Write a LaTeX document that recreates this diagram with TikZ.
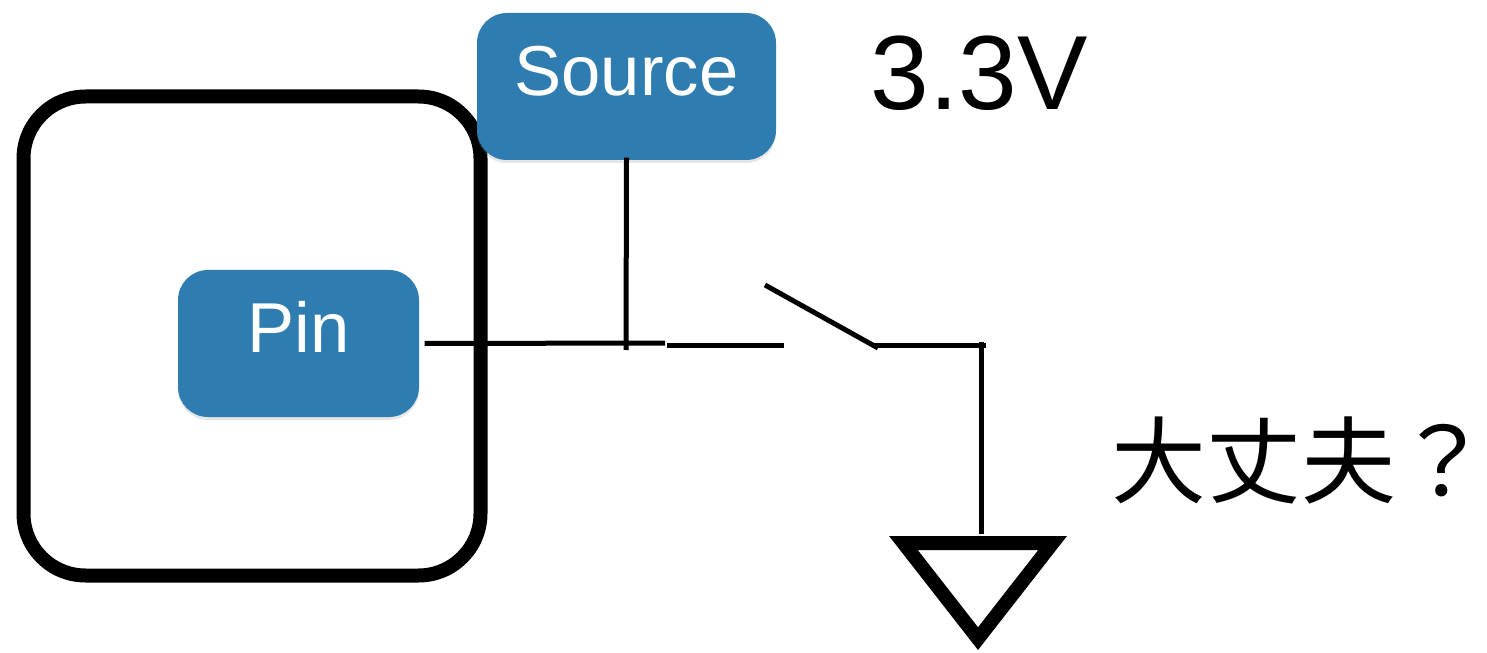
\documentclass[tikz,border=0pt]{standalone}
\usepackage{fontspec}
\setmainfont{Liberation Sans}
\newfontfamily\cjkfont{Noto Sans CJK JP}
\usetikzlibrary{shadows}
\definecolor{pinblue}{RGB}{47,125,176}
\tikzset{
    bluebox/.style={fill=pinblue,text=white,rounded corners=0.3cm,minimum height=1.47cm,
        text height=0.18cm,text depth=0cm,font=\fontsize{20.1pt}{24pt}\selectfont,
        drop shadow={shadow xshift=0cm,shadow yshift=-0.03cm,opacity=0.2}},
    wire/.style={line width=0.05cm},
}

\begin{document}
\begin{tikzpicture}
        \useasboundingbox (0,0) rectangle (14.87,6.52);
        \node[draw,line width=0.14cm,rounded corners=0.62cm,minimum width=4.57cm,minimum height=4.79cm] (chip) at (2.52,3.16) {};
        \node[bluebox,minimum width=2.99cm] (source) at (6.265,5.655) {Source};
        \node[bluebox,minimum width=2.41cm] (pin) at (2.985,3.085) {Pin};
        \coordinate (tee) at (6.26,3.02);
        \coordinate (wireend) at (6.65,3.09);
        \coordinate (contact) at (6.67,3.07);
        \coordinate (contactend) at (7.84,3.07);
        \coordinate (bladetop) at (7.65,3.67);
        \coordinate (hinge) at (8.78,3.04);
        \coordinate (hingeleft) at (8.73,3.07);
        \coordinate (corner) at (9.86,3.07);
        \coordinate (cornertop) at (9.81,3.10);
        \coordinate (gndtop) at (9.81,1.18);
        \draw[wire] ([xshift=0.05cm]pin.east) -- (wireend);
        \draw[wire] ([yshift=0.03cm]source.south) -- (tee);
        \draw[wire] (contact) -- (contactend);
        \draw[wire] (bladetop) -- (hinge);
        \draw[wire] (hingeleft) -- (corner);
        \draw[wire] (cornertop) -- (gndtop);
        % ground symbol
        \draw[line width=0.14cm,miter limit=10,fill=white] (9.034,1.09) -- (10.526,1.09) -- (9.78,0.134) -- cycle;
        \node[font=\fontsize{30pt}{34pt}\selectfont] (volt) at (9.79,5.785) {3.3V};
        \node[inner sep=0pt,font=\fontsize{27pt}{32pt}\selectfont\cjkfont] (question) at (13.01,1.92) {大丈夫？\hspace{-0.2cm}};
    \end{tikzpicture}
\end{document}
